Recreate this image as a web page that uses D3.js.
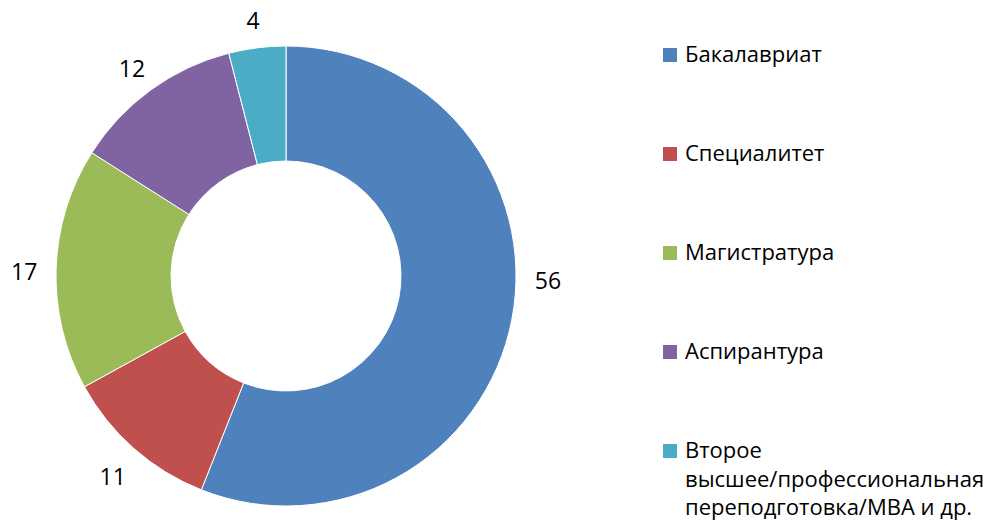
<!DOCTYPE html>
<html lang="ru">
<head>
    <meta charset="UTF-8">
    <title>Уровень образования</title>
    <script src="https://d3js.org/d3.v7.min.js"></script>
    <style>
        body { margin: 0; background: #fff; }
        text { font-family: "Open Sans", "Noto Sans", sans-serif; fill: #000; }
    </style>
</head>
<body>
    <svg width="998" height="529"></svg>

    <script>
        const categories = [
            "Бакалавриат",
            "Специалитет",
            "Магистратура",
            "Аспирантура",
            "Второе высшее/профессиональная переподготовка/MBA и др."
        ];
        const values = [56, 11, 17, 12, 4];
        const colors = ["#4F81BD", "#C0504D", "#9BBB59", "#8064A2", "#4BACC6"];

        const svg = d3.select("svg");

        const cx = 286, cy = 276,
              outerR = 230, innerR = 115,
              labelR = 262;

        const pie = d3.pie().sort(null).value(d => d.value);
        const arcs = pie(values.map((v, i) => ({ name: categories[i], value: v, color: colors[i] })));

        const arc = d3.arc().innerRadius(innerR).outerRadius(outerR);

        const g = svg.append("g").attr("transform", `translate(${cx},${cy})`);

        g.selectAll("path")
         .data(arcs)
         .enter()
         .append("path")
         .attr("d", arc)
         .attr("fill", d => d.data.color)
         .attr("stroke", "#fff")
         .attr("stroke-width", 1);

        // label angle: mid angle, big slices get pulled to the horizontal
        function labelAngle(d) {
            let a = (d.startAngle + d.endAngle) / 2;
            if (d.endAngle - d.startAngle > Math.PI) {
                [Math.PI / 2, 3 * Math.PI / 2].forEach(h => {
                    if (h >= d.startAngle && h <= d.endAngle) a = h;
                });
            }
            return a;
        }

        g.selectAll(".label")
         .data(arcs)
         .enter()
         .append("text")
         .attr("class", "label")
         .attr("x", d => Math.sin(labelAngle(d)) * labelR)
         .attr("y", d => -Math.cos(labelAngle(d)) * labelR)
         .attr("dy", "0.55em")
         .attr("text-anchor", "middle")
         .style("font-size", "23px")
         .text(d => d.data.value);

        // legend
        const legendX = 663, legendTop = 62, legendStep = 99, lineH = 28.5, maxW = 312;
        const legend = svg.append("g");

        arcs.forEach((d, i) => {
            const y = legendTop + i * legendStep;
            legend.append("rect")
                  .attr("x", legendX)
                  .attr("y", y - 14)
                  .attr("width", 14)
                  .attr("height", 14)
                  .attr("fill", d.data.color);

            const t = legend.append("text")
                            .attr("x", legendX + 22)
                            .attr("y", y)
                            .style("font-size", "22px");

            // simple word wrap
            const words = d.data.name.split(" ");
            let line = [], tspan = t.append("tspan").attr("x", legendX + 22).attr("dy", 0);
            words.forEach(w => {
                line.push(w);
                tspan.text(line.join(" "));
                if (tspan.node().getComputedTextLength() > maxW && line.length > 1) {
                    line.pop();
                    tspan.text(line.join(" "));
                    line = [w];
                    tspan = t.append("tspan").attr("x", legendX + 22).attr("dy", lineH).text(w);
                }
            });
        });
    </script>
</body>
</html>
